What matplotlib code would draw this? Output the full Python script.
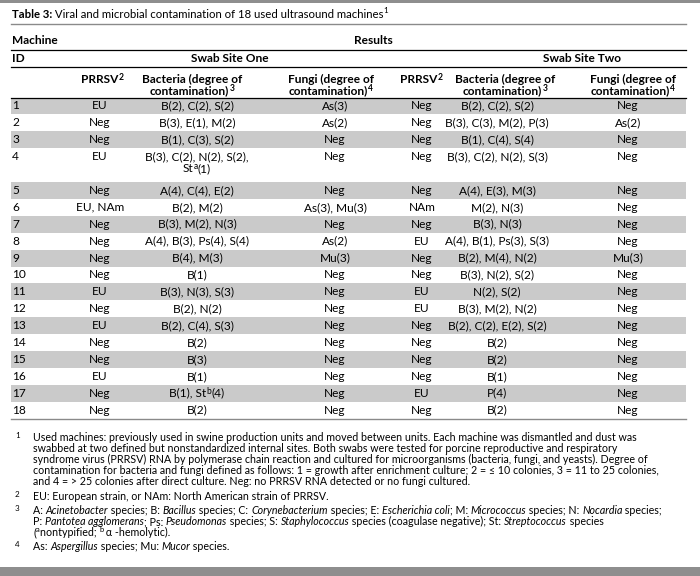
import matplotlib
matplotlib.use("Agg")
import matplotlib.pyplot as plt

plt.rcParams['font.family'] = ['Lato', 'DejaVu Sans']

# ---- table data ----
machine_ids = [str(i) for i in range(1, 19)]
prrsv_one = ["EU", "Neg", "Neg", "EU", "Neg", "EU, NAm", "Neg", "Neg", "Neg",
             "Neg", "EU", "Neg", "EU", "Neg", "Neg", "EU", "Neg", "Neg"]
bacteria_one = ["B(2), C(2), S(2)", "B(3), E(1), M(2)", "B(1), C(3), S(2)",
                ["B(3), C(2), N(2), S(2),", "St|a|(1)"], "A(4), C(4), E(2)",
                "B(2), M(2)", "B(3), M(2), N(3)", "A(4), B(3), Ps(4), S(4)",
                "B(4), M(3)", "B(1)", "B(3), N(3), S(3)", "B(2), N(2)",
                "B(2), C(4), S(3)", "B(2)", "B(3)", "B(1)", "B(1), St|b|(4)", "B(2)"]
fungi_one = ["As(3)", "As(2)", "Neg", "Neg", "Neg", "As(3), Mu(3)", "Neg", "As(2)",
             "Mu(3)", "Neg", "Neg", "Neg", "Neg", "Neg", "Neg", "Neg", "Neg", "Neg"]
prrsv_two = ["Neg", "Neg", "Neg", "Neg", "Neg", "NAm", "Neg", "EU", "Neg",
             "Neg", "EU", "EU", "Neg", "Neg", "Neg", "Neg", "EU", "Neg"]
bacteria_two = ["B(2), C(2), S(2)", "B(3), C(3), M(2), P(3)", "B(1), C(4), S(4)",
                "B(3), C(2), N(2), S(3)", "A(4), E(3), M(3)", "M(2), N(3)",
                "B(3), N(3)", "A(4), B(1), Ps(3), S(3)", "B(2), M(4), N(2)",
                "B(3), N(2), S(2)", "N(2), S(2)", "B(3), M(2), N(2)",
                "B(2), C(2), E(2), S(2)", "B(2)", "B(2)", "B(1)", "P(4)", "B(2)"]
fungi_two = ["Neg", "As(2)", "Neg", "Neg", "Neg", "Neg", "Neg", "Neg", "Mu(3)",
             "Neg", "Neg", "Neg", "Neg", "Neg", "Neg", "Neg", "Neg", "Neg"]

title_bold = "Table 3:"
title_rest = " Viral and microbial contamination of 18 used ultrasound machines"
site_labels = ["Swab Site One", "Swab Site Two"]
col_heads = [("PRRSV", "2"), ("Bacteria (degree of", "contamination)", "3"),
             ("Fungi (degree of", "contamination)", "4")]

footnotes = [
    ("1", [[("Used machines: previously used in swine production units and moved between units. Each machine was dismantled and dust was", "n")],
           [("swabbed at two defined but nonstandardized internal sites. Both swabs were tested for porcine reproductive and respiratory", "n")],
           [("syndrome virus (PRRSV) RNA by polymerase chain reaction and cultured for microorganisms (bacteria, fungi, and yeasts). Degree of", "n")],
           [("contamination for bacteria and fungi defined as follows: 1 = growth after enrichment culture; 2 = \u2264 10 colonies, 3 = 11 to 25 colonies,", "n")],
           [("and 4 = > 25 colonies after direct culture. Neg: no PRRSV RNA detected or no fungi cultured.", "n")]]),
    ("2", [[("EU: European strain, or NAm: North American strain of PRRSV.", "n")]]),
    ("3", [[("A: ", "n"), ("Acinetobacter", "i"), (" species; B: ", "n"), ("Bacillus", "i"),
            (" species; C: ", "n"), ("Corynebacterium", "i"), (" species; E: ", "n"),
            ("Escherichia coli", "i"), ("; M: ", "n"), ("Micrococcus", "i"),
            (" species; N: ", "n"), ("Nocardia", "i"), (" species;", "n")],
           [("P: ", "n"), ("Pantotea agglomerans", "i"), ("; Ps: ", "n"), ("Pseudomonas", "i"),
            (" species; S: ", "n"), ("Staphylococcus", "i"),
            (" species (coagulase negative); St: ", "n"), ("Streptococcus", "i"), (" species", "n")],
           [("(", "n"), ("a", "s"), ("nontypified; ", "n"), ("b", "s"), (" \u03b1 -hemolytic).", "n")]]),
    ("4", [[("As: ", "n"), ("Aspergillus", "i"), (" species; Mu: ", "n"), ("Mucor", "i"), (" species.", "n")]]),
]

# ---- layout ----
W, H = 700, 576
LEFT, RIGHT = 11, 686

fig = plt.figure(figsize=(7, 5.76), dpi=100)
ax = fig.add_axes([0, 0, 1, 1])
ax.set_xlim(0, W)
ax.set_ylim(H, 0)
ax.axis('off')
renderer = fig.canvas.get_renderer()


def text_width(s, size, **kw):
    t = ax.text(0, 0, s, fontsize=size, **kw)
    w = t.get_window_extent(renderer).width
    t.remove()
    return w


# fit sizes to the widths measured on the reference
BODY = 8.0 * 104 / text_width("B(3), C(3), M(2), P(3)", 8.0)
FOOT = 8.0 * 603 / text_width(footnotes[0][1][0][0][0], 8.0)
TITLE = 8.0 * 375 / text_width(title_bold + title_rest, 8.0)


def rich(x, y, parts, size, ha='left', weight='normal', raise_=0.4):
    """draw a line made of (text, style) parts; n=normal, i=italic, b=bold, s=superscript"""
    arts = []
    for txt, st in parts:
        kw = dict(fontsize=size, va='center', ha='left', weight=weight)
        yy = y
        if st == 'i':
            kw['style'] = 'italic'
        elif st == 'b':
            kw['weight'] = 'bold'
        elif st == 's':
            kw['fontsize'] = size * 0.72
            yy = y - size * raise_
        arts.append(ax.text(0, yy, txt, **kw))
    widths = [a.get_window_extent(renderer).width for a in arts]
    total = sum(widths)
    cur = x - total / 2 if ha == 'center' else x
    for a, w in zip(arts, widths):
        a.set_x(cur)
        cur += w
    return total


def cell(x, y, s, size=None, weight='normal'):
    size = size or BODY
    # "|a|" marks a superscript letter
    if '|' in s:
        bits = s.split('|')
        parts = [(b, 's' if k % 2 else 'n') for k, b in enumerate(bits)]
        rich(x, y, parts, size, ha='center', weight=weight, raise_=0.25)
    else:
        ax.text(x, y, s, fontsize=size, ha='center', va='center', weight=weight)


# frame bars and rules
ax.axhspan(0, 3, color='#8e8e8e', lw=0)
ax.axhspan(567, 576, color='#8e8e8e', lw=0)
ax.plot([LEFT, RIGHT], [23.5, 23.5], color='#8a8a8a', lw=1)
for yl in (49.5, 66.5, 97.5):
    ax.plot([LEFT, RIGHT], [yl, yl], color='black', lw=0.9)

# title
rich(LEFT + 1, 14, [(title_bold, 'b'), (title_rest, 'n'), ("1", 's')], TITLE)

# header
ax.text(12, 41, "Machine", fontsize=BODY, weight='bold', va='center')
ax.text(12, 58, "ID", fontsize=BODY, weight='bold', va='center')
ax.text(373, 41, "Results", fontsize=BODY, weight='bold', va='center', ha='center')
site_x = [230, 582]
for sx, lab in zip(site_x, site_labels):
    ax.text(sx, 58, lab, fontsize=BODY, weight='bold', va='center', ha='center')

head_x = [[102, 192, 331], [421, 505, 633]]
data_x = [[100, 197, 335], [422, 497, 628]]
for hx in head_x:
    rich(hx[0], 79.5, [(col_heads[0][0], 'n'), (col_heads[0][1], 's')], BODY, ha='center', weight='bold', raise_=0.25)
    for k in (1, 2):
        ax.text(hx[k], 79, col_heads[k][0], fontsize=BODY, weight='bold', ha='center', va='center')
        rich(hx[k], 91, [(col_heads[k][1], 'n'), (col_heads[k][2], 's')], BODY, ha='center', weight='bold', raise_=0.25)

# body rows
RH = 16.9
LH = 12.3
top = 97.5
for i in range(len(machine_ids)):
    b1 = bacteria_one[i]
    lines = b1 if isinstance(b1, list) else [b1]
    h = RH * len(lines)
    if i % 2 == 0:
        ax.axhspan(top, top + h, xmin=LEFT / W, xmax=RIGHT / W, color='#cacaca', lw=0)
    yc = top + RH / 2
    ax.text(12, yc, machine_ids[i], fontsize=BODY, va='center')
    cell(data_x[0][0], yc, prrsv_one[i])
    for j, ln in enumerate(lines):
        cell(data_x[0][1], yc + j * LH, ln)
    cell(data_x[0][2], yc, fungi_one[i])
    cell(data_x[1][0], yc, prrsv_two[i])
    cell(data_x[1][1], yc, bacteria_two[i])
    cell(data_x[1][2], yc, fungi_two[i])
    top += h

ax.plot([LEFT, RIGHT], [top + 0.5, top + 0.5], color='#8a8a8a', lw=1)

# footnotes
fy = top + 18.5
FL = 11.2
for mark, lines in footnotes:
    ax.text(15, fy - 2, mark, fontsize=FOOT * 0.75, va='center')
    for ln in lines:
        rich(33, fy, ln, FOOT)
        fy += FL
    fy += 3.0

fig.savefig("out.png", dpi=100)
